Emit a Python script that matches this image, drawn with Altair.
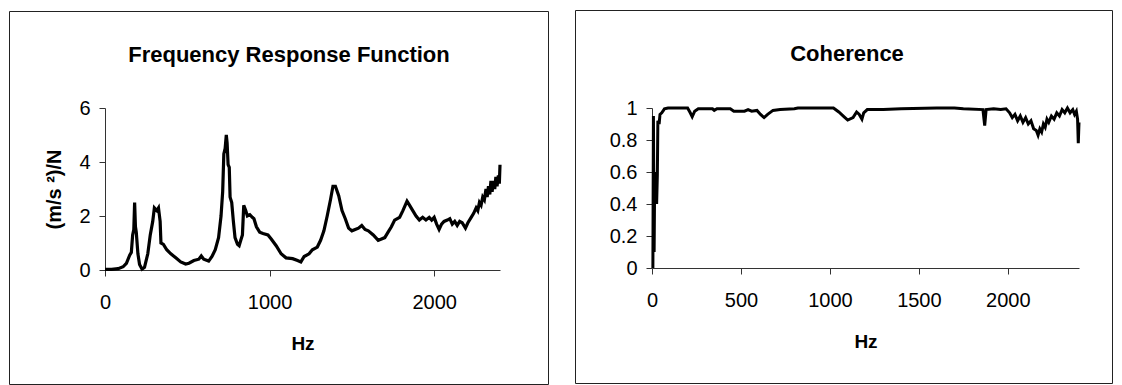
import altair as alt
import pandas as pd

# ---- Frequency Response Function (Hz, (m/s^2)/N) ----
frf_hz = [0, 40, 80, 110, 130, 150, 160, 168, 175, 180, 185, 190, 200, 210, 225, 240, 260, 275, 290, 300,
          315, 325, 335, 340, 355, 375, 400, 430, 460, 490, 510, 540, 570, 585, 600, 630, 650, 670, 690, 705,
          715, 722, 730, 737, 742, 748, 755, 760, 770, 780, 790, 805, 815, 825, 835, 843, 855, 865, 880, 895,
          905, 920, 940, 960, 990, 1010, 1040, 1070, 1100, 1140, 1170, 1190, 1210, 1240, 1260, 1290, 1310, 1330, 1350, 1370,
          1385, 1400, 1420, 1440, 1460, 1480, 1500, 1520, 1540, 1560, 1580, 1600, 1630, 1660, 1680, 1700, 1720, 1740, 1760, 1790,
          1810, 1835, 1850, 1870, 1890, 1910, 1930, 1950, 1970, 1985, 2000, 2015, 2030, 2045, 2060, 2080, 2095, 2110, 2125, 2140,
          2155, 2170, 2190, 2205, 2225, 2240, 2255, 2265, 2275, 2285, 2295, 2305, 2315, 2322, 2330, 2338, 2345, 2352, 2360, 2368,
          2375, 2382, 2390, 2396, 2400]
frf_val = [0.02, 0.02, 0.05, 0.12, 0.25, 0.55, 0.65, 1.3, 1.5, 2.5, 1.6, 1.4, 0.6, 0.2, 0.03, 0.1, 0.6, 1.3, 1.8, 2.3,
           2.2, 2.3, 1.8, 1.0, 0.95, 0.75, 0.6, 0.45, 0.3, 0.22, 0.25, 0.35, 0.4, 0.52, 0.4, 0.33, 0.5, 0.75, 1.2, 2.0,
           2.9, 4.3, 4.5, 5.0, 4.7, 3.9, 3.8, 2.7, 2.5, 1.8, 1.2, 0.95, 0.9, 1.1, 1.3, 2.4, 2.2, 2.0, 2.05, 1.95,
           1.9, 1.6, 1.4, 1.35, 1.3, 1.15, 0.9, 0.6, 0.45, 0.42, 0.35, 0.3, 0.5, 0.6, 0.75, 0.85, 1.1, 1.45, 2.0, 2.6,
           3.1, 3.1, 2.75, 2.2, 1.9, 1.55, 1.45, 1.5, 1.55, 1.65, 1.5, 1.45, 1.3, 1.1, 1.15, 1.2, 1.4, 1.6, 1.85, 1.95,
           2.2, 2.55, 2.4, 2.2, 2.0, 1.85, 1.95, 1.85, 1.95, 1.85, 1.95, 1.7, 1.5, 1.7, 1.8, 1.85, 1.9, 1.7, 1.8, 1.65,
           1.8, 1.75, 1.55, 1.75, 1.95, 2.1, 2.3, 2.2, 2.5, 2.4, 2.7, 2.6, 3.0, 2.7, 3.1, 2.8, 3.3, 2.9, 3.3, 3.0,
           3.45, 3.1, 3.5, 3.2, 3.9]

# ---- Coherence (Hz, -) ----
coh_hz = [5, 8, 12, 15, 18, 22, 26, 30, 33, 40, 45, 55, 70, 90, 200, 215, 226, 240, 260, 340,
          350, 365, 440, 460, 520, 540, 560, 590, 610, 630, 650, 680, 720, 800, 820, 1020, 1050, 1080, 1100, 1130,
          1150, 1165, 1180, 1190, 1210, 1300, 1400, 1600, 1700, 1750, 1860, 1870, 1878, 1920, 1960, 1990, 2010, 2025, 2040, 2055,
          2070, 2085, 2100, 2115, 2130, 2145, 2160, 2170, 2180, 2190, 2200, 2210, 2220, 2230, 2245, 2260, 2275, 2290, 2305, 2320,
          2335, 2350, 2365, 2375, 2385, 2392, 2396, 2400]
coh_val = [0.0, 0.95, 0.1, 0.55, 0.4, 0.6, 0.4, 0.58, 0.92, 0.9, 0.96, 0.97, 0.995, 1.0, 1.0, 0.97, 0.945, 0.98, 0.995, 0.995,
           0.985, 0.995, 0.995, 0.98, 0.98, 0.99, 0.98, 0.985, 0.96, 0.94, 0.96, 0.985, 0.99, 0.995, 1.0, 1.0, 0.975, 0.945, 0.925, 0.94,
           0.975, 0.96, 0.93, 0.97, 0.99, 0.99, 0.995, 1.0, 1.0, 0.995, 0.99, 0.89, 0.99, 0.995, 0.99, 0.995, 0.97, 0.94, 0.96, 0.92,
           0.95, 0.91, 0.94, 0.90, 0.92, 0.87, 0.86, 0.83, 0.87, 0.85, 0.90, 0.88, 0.93, 0.91, 0.95, 0.93, 0.97, 0.95, 0.99, 0.97,
           1.0, 0.97, 0.99, 0.96, 0.98, 0.93, 0.78, 0.91]

titles = ["Frequency Response Function", "Coherence"]
x_title = "Hz"
y_title_left = "(m/s \u00b2)/N"

FONT = "Liberation Sans"

frf_df = pd.DataFrame({"hz": frf_hz, "val": frf_val})
coh_df = pd.DataFrame({"hz": coh_hz, "val": coh_val})
one = pd.DataFrame({"k": [0]})


def decor(x1, x2, y1, y2, tx, ty, text):
    border = alt.Chart(one).mark_rect(fillOpacity=0, stroke="#222", strokeWidth=1).encode(
        x=alt.value(x1), x2=alt.value(x2), y=alt.value(y1), y2=alt.value(y2))
    ttl = alt.Chart(one).mark_text(text=text, font=FONT, fontSize=22, fontWeight="bold",
                                   align="center", baseline="alphabetic", color="black").encode(
        x=alt.value(tx), y=alt.value(ty))
    return border, ttl


# left panel: plot area 105..500 x 107..269
W1, H1 = 395, 162
b1, t1 = decor(-95.5, 443.5, -96.5, 276.5, 184, -46.5, titles[0])
line1 = alt.Chart(frf_df).mark_line(color="black", strokeWidth=3.2).encode(
    x=alt.X("hz:Q", scale=alt.Scale(domain=[0, 2400], nice=False),
            axis=alt.Axis(values=[0, 1000, 2000], format="d", title=x_title, labelPadding=16,
                          titlePadding=22, labelFlush=False)),
    y=alt.Y("val:Q", scale=alt.Scale(domain=[0, 6], nice=False),
            axis=alt.Axis(values=[0, 2, 4, 6], format="d", title=y_title_left, labelPadding=9,
                          titlePadding=14, titleFontSize=20)),
)
left = alt.layer(b1, t1, line1).properties(width=W1, height=H1)

# right panel: plot area 652..1079 x 108..268
W2, H2 = 427, 160
b2, t2 = decor(-76.5, 460.5, -97.5, 275.5, 195, -47.5, titles[1])
line2 = alt.Chart(coh_df).mark_line(color="black", strokeWidth=3.0).encode(
    x=alt.X("hz:Q", scale=alt.Scale(domain=[0, 2400], nice=False),
            axis=alt.Axis(values=[0, 500, 1000, 1500, 2000], format="d", title=x_title, labelPadding=16,
                          titlePadding=22, labelFlush=False)),
    y=alt.Y("val:Q", scale=alt.Scale(domain=[0, 1], nice=False),
            axis=alt.Axis(values=[0, 0.2, 0.4, 0.6, 0.8, 1], format="~g", title=None, labelPadding=9)),
)
right = alt.layer(b2, t2, line2).properties(width=W2, height=H2)

chart = alt.hconcat(left, right, spacing=26).properties(
    padding={"left": 1, "top": 2, "right": 0, "bottom": 0},
    background="white",
).configure_view(stroke=None).configure_axis(
    grid=False,
    labelFont=FONT, labelFontSize=20, labelColor="black",
    titleFont=FONT, titleFontSize=19, titleFontWeight="bold", titleColor="black",
    domainColor="#333", domainWidth=1, tickColor="#333", tickSize=6, tickWidth=1,
)

chart.save("out.html", embed_options={"renderer": "svg", "actions": False})
